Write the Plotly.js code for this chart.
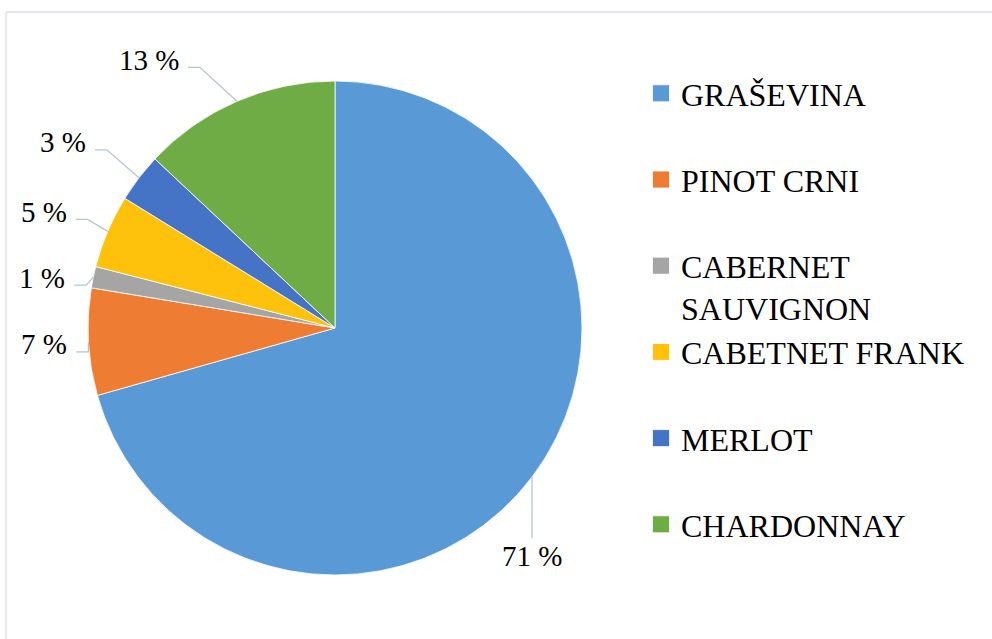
<!DOCTYPE html>
<html>
<head>
<meta charset="utf-8">
<script src="https://cdn.plot.ly/plotly-3.0.1.min.js"></script>
<style>html,body{margin:0;padding:0;background:#fff;}#chart{width:992px;height:639px;}</style>
</head>
<body>
<div id="chart"></div>
<script>
// ---- data ----
const categories = ['GRAŠEVINA', 'PINOT CRNI', 'CABERNET SAUVIGNON', 'CABETNET FRANK', 'MERLOT', 'CHARDONNAY'];
const values = [70.6, 7.0, 1.4, 4.8, 3.2, 13.0];

// ---- style ----
const colors = ['#5899D6', '#EE7D33', '#A5A5A5', '#FEC10C', '#4573C5', '#6FAC45'];
const W = 992, H = 639;
const CX = 335, CY = 328, R = 247;           // pie geometry (px)
// leader line elbow offsets relative to slice edge midpoint (px)
const leaderDX = [0, 0, -7, -20, -32, -37];
const leaderDY = [61, 10, 8, -12, -28, -34];
const labelFont = {family: 'Liberation Serif, Times New Roman, serif', size: 29, color: '#000'};
const legendFont = {family: 'Liberation Serif, Times New Roman, serif', size: 32, color: '#000'};
const leaderColor = '#B8C3D2';

const legendText = categories.map(c => c === 'CABERNET SAUVIGNON' ? 'CABERNET<br>SAUVIGNON' : c + '<br>&nbsp;');

const px = x => x / W;
const py = y => 1 - y / H;

const total = values.reduce((a, b) => a + b, 0);
const annotations = [];
const shapes = [{
  type: 'rect', xref: 'paper', yref: 'paper',
  x0: px(6), x1: 1.01, y0: -0.01, y1: py(12),
  line: {color: '#D9DEE6', width: 1.3}
}];

let cum = 0;
values.forEach((v, i) => {
  const mid = (cum + v / 2) / total * 2 * Math.PI;
  cum += v;
  const ex = CX + R * Math.sin(mid), ey = CY - R * Math.cos(mid);
  const ppx = ex + leaderDX[i], ppy = ey + leaderDY[i];
  const txt = Math.round(v / total * 100) + ' %';
  if (Math.cos(mid) < -0.5) {
    shapes.push({type: 'path', xref: 'paper', yref: 'paper',
      path: `M${px(ex)},${py(ey)}L${px(ppx)},${py(ppy)}`,
      line: {color: leaderColor, width: 1.3}});
    annotations.push({xref: 'paper', yref: 'paper', x: px(ppx), y: py(ppy + 18),
      xanchor: 'center', yanchor: 'middle', text: txt, showarrow: false, font: labelFont});
  } else {
    const s = Math.sign(Math.sin(mid));
    const hx = ppx + s * 12;
    shapes.push({type: 'path', xref: 'paper', yref: 'paper',
      path: `M${px(ex)},${py(ey)}L${px(ppx)},${py(ppy)}L${px(hx)},${py(ppy)}`,
      line: {color: leaderColor, width: 1.3}});
    annotations.push({xref: 'paper', yref: 'paper', x: px(hx + s * 7), y: py(ppy - 7.5),
      xanchor: s < 0 ? 'right' : 'left', yanchor: 'middle', text: txt, showarrow: false, font: labelFont});
  }
});

const trace = {
  type: 'pie',
  labels: legendText,
  values: values,
  sort: false,
  direction: 'clockwise',
  rotation: 0,
  textinfo: 'none',
  hoverinfo: 'label+percent',
  marker: {colors: colors, line: {color: '#ffffff', width: 0.8}},
  domain: {x: [px(CX - R), px(CX + R)], y: [py(CY + R), py(CY - R)]}
};

const layout = {
  width: W, height: H,
  margin: {l: 0, r: 0, t: 0, b: 0},
  paper_bgcolor: '#ffffff',
  showlegend: true,
  legend: {x: px(641), xanchor: 'left', y: py(66), yanchor: 'top', font: legendFont,
           valign: 'top', bgcolor: 'rgba(0,0,0,0)', tracegroupgap: 0},
  shapes: shapes,
  annotations: annotations
};

Plotly.newPlot('chart', [trace], layout, {staticPlot: true}).then(() => {
  document.querySelectorAll('.legendpoints path').forEach(p => p.setAttribute('d', 'M8.5,8.5H-8.5V-8.5H8.5Z'));
});
</script>
</body>
</html>
